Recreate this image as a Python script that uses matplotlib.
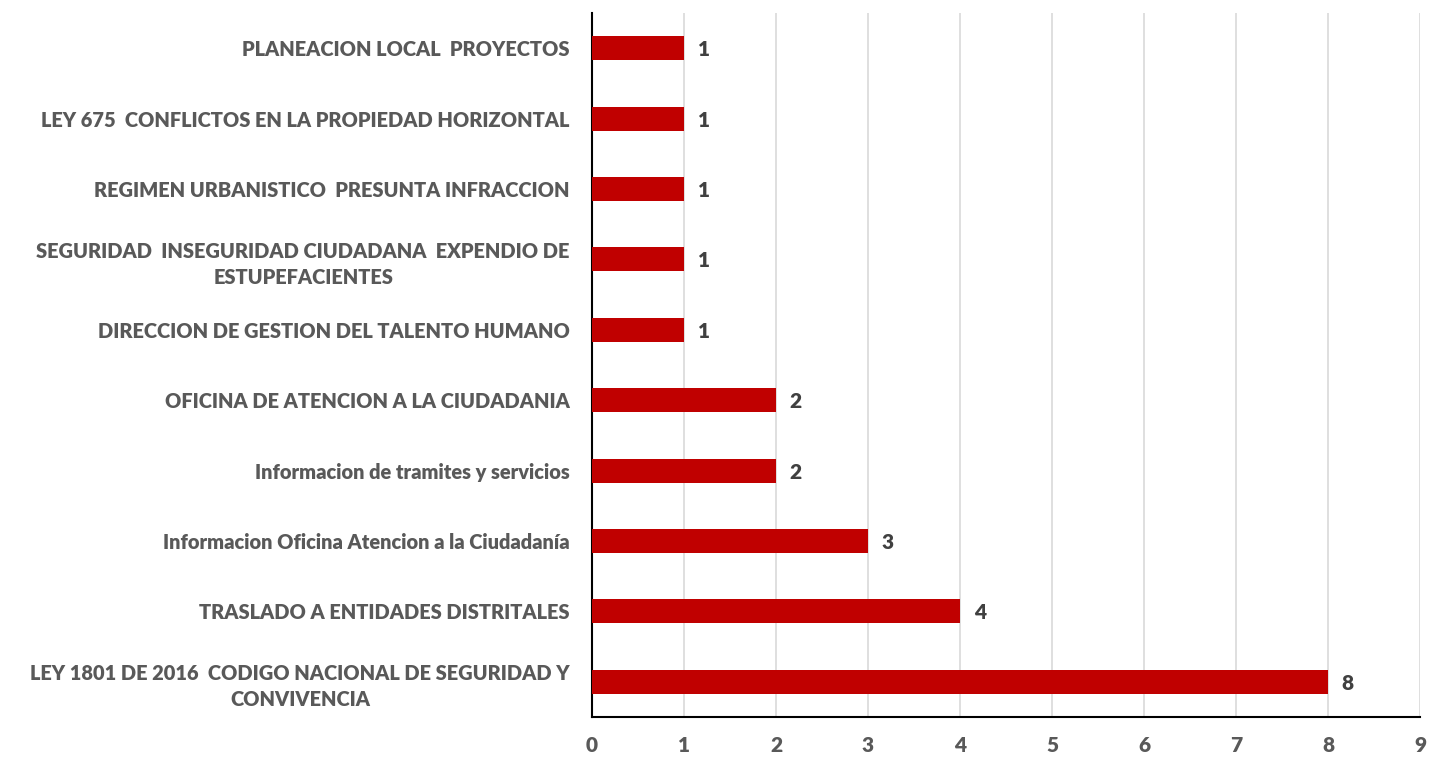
import matplotlib
matplotlib.use("Agg")
import matplotlib.pyplot as plt

categories = [
    "LEY 1801 DE 2016  CODIGO NACIONAL DE SEGURIDAD Y\nCONVIVENCIA",
    "TRASLADO A ENTIDADES DISTRITALES",
    "Informacion Oficina Atencion a la Ciudadanía",
    "Informacion de tramites y servicios",
    "OFICINA DE ATENCION A LA CIUDADANIA",
    "DIRECCION DE GESTION DEL TALENTO HUMANO",
    "SEGURIDAD  INSEGURIDAD CIUDADANA  EXPENDIO DE\nESTUPEFACIENTES",
    "REGIMEN URBANISTICO  PRESUNTA INFRACCION",
    "LEY 675  CONFLICTOS EN LA PROPIEDAD HORIZONTAL",
    "PLANEACION LOCAL  PROYECTOS",
]
values = [8, 4, 3, 2, 2, 1, 1, 1, 1, 1]
xticks = [0, 1, 2, 3, 4, 5, 6, 7, 8, 9]

plt.rcParams['font.family'] = ['Lato', 'DejaVu Sans']

fig = plt.figure(figsize=(14.3, 7.59), dpi=100)
ax = fig.add_axes([592/1430, 1 - 717/759, (1420-592)/1430, (717-13)/759])

ys = list(range(len(categories)))
ax.barh(ys, values, height=0.34, color="#C00000", zorder=3)
for y, v in zip(ys, values):
    ax.text(v + 0.15, y - 0.02, str(v), va='center', ha='left', fontsize=15,
            fontweight='heavy', color='#404040')

ax.set_xlim(0, 9)
ax.set_ylim(-0.5, len(categories) - 0.5)
ax.set_xticks(xticks)
ax.set_xticklabels([str(t) for t in xticks], fontsize=15, fontweight='heavy', color='#595959')
ax.set_yticks(ys)
ax.set_yticklabels(categories, fontsize=14.4, fontweight='heavy', color='#595959',
                   multialignment='center', linespacing=1.45)
ax.tick_params(axis='both', length=0)
ax.tick_params(axis='y', pad=16)
ax.tick_params(axis='x', pad=14)
ax.grid(axis='x', color='#D9D9D9', linewidth=1.2, zorder=0)
for s in ['top', 'right']:
    ax.spines[s].set_visible(False)
ax.spines['left'].set_color('black')
ax.spines['bottom'].set_color('black')
ax.spines['left'].set_linewidth(1.5)
ax.spines['bottom'].set_linewidth(1.5)

fig.savefig("out.png", dpi=100)
